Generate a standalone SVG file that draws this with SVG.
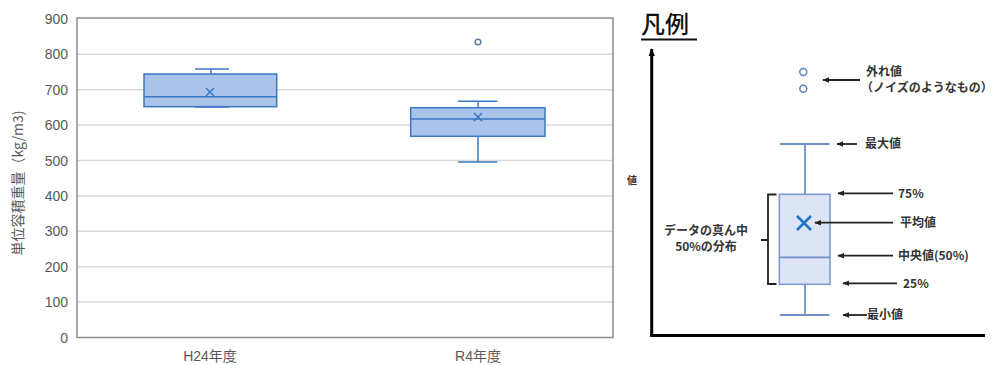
<svg xmlns="http://www.w3.org/2000/svg" width="1002" height="365" viewBox="0 0 1002 365">
<style>
.ylab{font-family:"Liberation Sans","Noto Sans CJK JP",sans-serif;font-size:14px;fill:#595959;text-anchor:end}
.xlab{font-family:"Liberation Sans","Noto Sans CJK JP",sans-serif;font-size:14px;fill:#595959;text-anchor:middle}
.grid{stroke:#d9d9d9;stroke-width:1.5}
.cbox{fill:#a9c3ea;stroke:#3a78c2;stroke-width:1.5}
.cl{stroke:#3a78c2;stroke-width:1.5;fill:none}
.lg{font-family:"Noto Sans CJK JP","Liberation Sans",sans-serif;font-size:12px;fill:#333;font-weight:bold}
.arr{stroke:#222;stroke-width:1.8;fill:none;marker-end:url(#ah)}
.lb{stroke:#6f8fc9;stroke-width:1.8;fill:none}
</style>
<defs>
<marker id="ah" viewBox="0 0 10 10" refX="9" refY="5" markerWidth="7" markerHeight="7" orient="auto" markerUnits="userSpaceOnUse">
<path d="M0,1 L10,5 L0,9 Z" fill="#222"/>
</marker>
<marker id="ahBig" viewBox="0 0 10 10" refX="9" refY="5" markerWidth="8" markerHeight="8" orient="auto" markerUnits="userSpaceOnUse">
<path d="M0,1 L10,5 L0,9 Z" fill="#000"/>
</marker>
</defs>
<rect width="1002" height="365" fill="#fff"/>

<g id="chart">
<g id="gridlines">
<line class="grid" x1="77" y1="54.3" x2="613" y2="54.3"/>
<line class="grid" x1="77" y1="89.7" x2="613" y2="89.7"/>
<line class="grid" x1="77" y1="125.1" x2="613" y2="125.1"/>
<line class="grid" x1="77" y1="160.5" x2="613" y2="160.5"/>
<line class="grid" x1="77" y1="195.9" x2="613" y2="195.9"/>
<line class="grid" x1="77" y1="231.3" x2="613" y2="231.3"/>
<line class="grid" x1="77" y1="266.7" x2="613" y2="266.7"/>
<line class="grid" x1="77" y1="302.1" x2="613" y2="302.1"/>
</g>
<rect x="77" y="18" width="536" height="319.5" fill="none" stroke="#8c8c8c" stroke-width="1.5"/>
<g id="yticks">
<text class="ylab" x="68" y="24">900</text>
<text class="ylab" x="68" y="59.3">800</text>
<text class="ylab" x="68" y="94.7">700</text>
<text class="ylab" x="68" y="130.1">600</text>
<text class="ylab" x="68" y="165.5">500</text>
<text class="ylab" x="68" y="200.9">400</text>
<text class="ylab" x="68" y="236.3">300</text>
<text class="ylab" x="68" y="271.7">200</text>
<text class="ylab" x="68" y="307.1">100</text>
<text class="ylab" x="68" y="342.5">0</text>
</g>
<text transform="translate(23,183) rotate(-90)" font-family="'Noto Sans CJK JP','Liberation Sans',sans-serif" font-size="14" fill="#595959" text-anchor="middle">単位容積重量（kg/m3)</text>
<text class="xlab" x="210" y="361">H24年度</text>
<text class="xlab" x="478" y="361">R4年度</text>
</g>

<g id="box-h24">
<line class="cl" x1="211" y1="69" x2="211" y2="74"/>
<line class="cl" x1="195" y1="69" x2="229" y2="69"/>
<rect class="cbox" x="144" y="74" width="132.7" height="32.7"/>
<line class="cl" x1="144" y1="96.7" x2="276.7" y2="96.7"/>
<line class="cl" x1="195" y1="107" x2="229" y2="107" stroke-width="2.5"/>
<path class="cl" d="M206,88 L214,96 M214,88 L206,96" stroke-width="1.8"/>
</g>

<g id="box-r4">
<circle cx="478" cy="42" r="2.8" fill="#fff" stroke="#5b7fa8" stroke-width="1.6"/>
<line class="cl" x1="478" y1="101.3" x2="478" y2="107.7"/>
<line class="cl" x1="458" y1="101.3" x2="497.3" y2="101.3"/>
<rect class="cbox" x="410.7" y="107.7" width="134.3" height="28.6"/>
<line class="cl" x1="410.7" y1="119" x2="545" y2="119"/>
<line class="cl" x1="478" y1="136.3" x2="478" y2="162"/>
<line class="cl" x1="458" y1="162" x2="497.3" y2="162"/>
<path class="cl" d="M474,113 L482,121 M482,113 L474,121" stroke-width="1.8"/>
</g>

<g id="legend">
<text x="641" y="33" font-family="'Noto Sans CJK JP','Liberation Sans',sans-serif" font-size="24" font-weight="500" fill="#111">凡例</text>
<line x1="641" y1="39.5" x2="697" y2="39.5" stroke="#111" stroke-width="2"/>
<line x1="651.7" y1="335.5" x2="651.7" y2="49" stroke="#000" stroke-width="3" marker-end="url(#ahBig)"/>
<line x1="650.2" y1="335.5" x2="985" y2="335.5" stroke="#000" stroke-width="3"/>
<text x="627" y="184" font-family="'Noto Sans CJK JP','Liberation Sans',sans-serif" font-size="10" fill="#333" font-weight="bold">値</text>
</g>

<g id="legend-box">
<circle cx="803.3" cy="72" r="3.5" fill="#fff" stroke="#5b7fc0" stroke-width="1.4"/>
<circle cx="803.3" cy="88.7" r="3.5" fill="#fff" stroke="#5b7fc0" stroke-width="1.4"/>
<line class="lb" x1="780" y1="144" x2="829.5" y2="144"/>
<line class="lb" x1="805" y1="144" x2="805" y2="194.3"/>
<rect x="779.3" y="194.3" width="50.7" height="90" fill="#dce4f5" stroke="#7f9bd0" stroke-width="1.6"/>
<line class="lb" x1="779.3" y1="257.3" x2="830" y2="257.3"/>
<line class="lb" x1="805" y1="284.3" x2="805" y2="315"/>
<line class="lb" x1="780" y1="315" x2="829.5" y2="315"/>
<path d="M797,216 L811,230 M811,216 L797,230" stroke="#1a75c9" stroke-width="2.6" fill="none"/>
<path d="M776.5,194.5 L768,194.5 L768,284 L776.5,284 M768,240 L761,240" stroke="#222" stroke-width="1.8" fill="none"/>
</g>

<g id="legend-connectors">
<line class="arr" x1="860" y1="80" x2="823" y2="80"/>
<line class="arr" x1="857" y1="144" x2="837" y2="144"/>
<line class="arr" x1="893" y1="193.3" x2="838" y2="193.3"/>
<line class="arr" x1="893" y1="222.7" x2="815" y2="222.7"/>
<line class="arr" x1="893" y1="255.7" x2="838" y2="255.7"/>
<line class="arr" x1="897" y1="283.3" x2="843" y2="283.3"/>
<line class="arr" x1="867" y1="315" x2="843" y2="315"/>
</g>

<g id="legend-labels">
<text class="lg" x="866" y="76">外れ値</text>
<text class="lg" x="861" y="91.5">（ノイズのようなもの）</text>
<text class="lg" x="865" y="148">最大値</text>
<text class="lg" x="898" y="198">75%</text>
<text class="lg" x="900" y="227">平均値</text>
<text class="lg" x="898" y="260">中央値(50%)</text>
<text class="lg" x="903" y="287.5">25%</text>
<text class="lg" x="867" y="319">最小値</text>
<text class="lg" x="706" y="235" text-anchor="middle">データの真ん中</text>
<text class="lg" x="706" y="251" text-anchor="middle">50%の分布</text>
</g>
</svg>
